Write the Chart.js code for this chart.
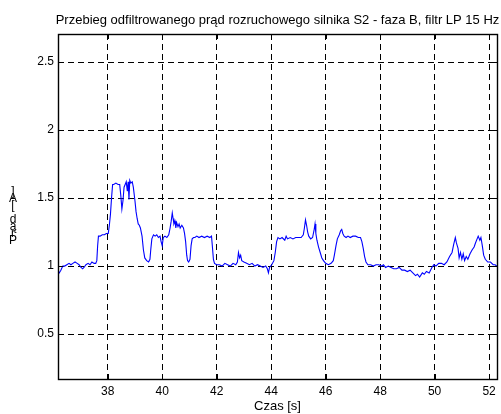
<!DOCTYPE html>
<html>
<head>
<meta charset="utf-8">
<script src="https://cdn.jsdelivr.net/npm/chart.js@4.4.1/dist/chart.umd.min.js"></script>
<style>
html,body{margin:0;padding:0;background:#fff;}
#wrap{width:501px;height:414px;position:relative;}
</style>
</head>
<body>
<div id="wrap"><canvas id="c" width="501" height="414"></canvas></div>
<script>
const titleText = 'Przebieg odfiltrowanego prąd rozruchowego silnika S2 - faza B, filtr LP 15 Hz';
const xLabel = 'Czas [s]';
const yLabel = 'Prąd [A]';
const xTicks = [38, 40, 42, 44, 46, 48, 50, 52];
const yTicks = [0.5, 1, 1.5, 2, 2.5];
const xRange = [36.175, 52.29];
const yRange = [0.17, 2.706];

const timeValues = [
36.18,36.22,36.28,36.35,36.42,36.5,36.58,36.65,36.72,36.8,36.88,36.95,37.02,37.08,37.13,37.2,37.28,37.35,37.42,37.5,37.56,37.6,37.63,37.66,37.72,37.8,37.88,37.95,38.02,38.06,38.1,38.14,38.18,38.22,38.3,38.38,38.44,38.48,38.52,38.56,38.6,38.64,38.68,38.72,38.75,38.78,38.81,38.85,38.9,38.94,39.0,39.04,39.08,39.12,39.16,39.2,39.26,39.31,39.36,39.43,39.5,39.55,39.58,39.62,39.68,39.74,39.8,39.86,39.92,39.96,40.0,40.04,40.1,40.17,40.24,40.29,40.33,40.37,40.4,40.43,40.47,40.5,40.53,40.58,40.62,40.66,40.72,40.78,40.82,40.86,40.9,40.93,40.97,41.02,41.06,41.1,41.15,41.2,41.27,41.35,41.45,41.55,41.65,41.75,41.81,41.84,41.88,41.92,42.0,42.1,42.2,42.3,42.4,42.5,42.6,42.7,42.76,42.8,42.84,42.88,42.92,43.0,43.1,43.2,43.3,43.4,43.5,43.6,43.7,43.8,43.86,43.9,43.94,44.02,44.1,44.15,44.2,44.25,44.32,44.4,44.5,44.55,44.6,44.7,44.8,44.9,45.0,45.1,45.18,45.22,45.26,45.3,45.34,45.38,45.45,45.52,45.58,45.61,45.64,45.68,45.74,45.8,45.86,45.92,46.0,46.1,46.2,46.28,46.32,46.38,46.43,46.5,46.55,46.59,46.63,46.68,46.75,46.82,46.9,47.0,47.1,47.2,47.28,47.33,47.38,47.43,47.48,47.55,47.65,47.75,47.85,47.95,48.05,48.12,48.2,48.3,48.4,48.5,48.6,48.7,48.8,48.9,49.0,49.1,49.2,49.3,49.37,49.45,49.55,49.62,49.7,49.8,49.9,49.97,50.05,50.15,50.25,50.35,50.45,50.55,50.64,50.7,50.76,50.8,50.86,50.9,50.95,51.0,51.05,51.1,51.16,51.22,51.3,51.38,51.45,51.5,51.56,51.6,51.66,51.7,51.75,51.8,51.86,51.95,52.05,52.15,52.22,52.28
];
const currentValues = [
0.94,0.95,0.97,1.00,1.00,1.01,1.02,1.01,1.02,1.03,1.02,1.01,0.99,0.98,0.99,1.01,1.02,1.01,1.03,1.02,1.02,1.04,1.15,1.22,1.22,1.23,1.23,1.24,1.24,1.30,1.38,1.50,1.60,1.60,1.61,1.60,1.60,1.52,1.42,1.48,1.58,1.60,1.62,1.55,1.62,1.49,1.63,1.61,1.62,1.58,1.48,1.40,1.35,1.31,1.30,1.28,1.22,1.12,1.06,1.04,1.03,1.05,1.12,1.20,1.23,1.22,1.23,1.21,1.22,1.18,1.15,1.21,1.22,1.21,1.23,1.28,1.33,1.39,1.35,1.31,1.33,1.28,1.32,1.29,1.31,1.28,1.30,1.28,1.24,1.18,1.08,1.04,1.03,1.05,1.15,1.20,1.21,1.21,1.22,1.21,1.22,1.21,1.22,1.21,1.22,1.15,1.05,1.02,1.01,1.01,1.00,1.02,1.01,1.00,1.02,1.01,1.03,1.10,1.06,1.08,1.04,1.03,1.02,1.01,1.02,1.00,1.01,1.00,0.99,1.00,0.98,0.95,0.99,1.01,1.04,1.10,1.18,1.21,1.20,1.21,1.19,1.22,1.20,1.21,1.20,1.21,1.21,1.21,1.23,1.28,1.34,1.30,1.25,1.22,1.20,1.21,1.27,1.31,1.24,1.19,1.14,1.10,1.06,1.04,1.02,1.01,1.02,1.04,1.08,1.15,1.20,1.23,1.26,1.27,1.24,1.22,1.21,1.22,1.21,1.22,1.22,1.21,1.21,1.18,1.13,1.07,1.03,1.01,1.01,1.00,1.01,1.01,1.00,1.01,0.99,1.00,0.99,0.98,0.98,0.99,0.97,0.97,0.96,0.97,0.95,0.93,0.94,0.92,0.95,0.94,0.96,0.95,0.99,1.01,1.00,1.02,1.02,1.01,1.03,1.07,1.10,1.16,1.21,1.17,1.13,1.06,1.10,1.05,1.09,1.04,1.07,1.05,1.09,1.12,1.14,1.17,1.20,1.22,1.19,1.21,1.15,1.08,1.05,1.03,1.03,1.01,1.01,1.00
];

const FONT = '"Liberation Sans", Arial, Helvetica, sans-serif';

const decor = {
  id: 'decor',
  afterDraw(chart) {
    const {ctx, chartArea: a, scales} = chart;
    ctx.save();
    ctx.strokeStyle = '#000';
    ctx.lineWidth = 1;
    ctx.setLineDash([]);
    const tl = 5;
    ctx.beginPath();
    xTicks.forEach(v => {
      const x = Math.round(scales.x.getPixelForValue(v)) + 0.5;
      ctx.moveTo(x, a.bottom); ctx.lineTo(x, a.bottom - tl);
      ctx.moveTo(x, a.top); ctx.lineTo(x, a.top + tl);
    });
    yTicks.forEach(v => {
      const y = Math.round(scales.y.getPixelForValue(v)) + 0.5;
      ctx.moveTo(a.left, y); ctx.lineTo(a.left + tl, y);
      ctx.moveTo(a.right, y); ctx.lineTo(a.right - tl, y);
    });
    ctx.stroke();
    ctx.lineWidth = 1.4;
    ctx.strokeRect(Math.round(a.left) + 0.5, Math.round(a.top) + 0.5,
                   Math.round(a.right - a.left), Math.round(a.bottom - a.top));
    ctx.fillStyle = '#000';
    ctx.font = '13px ' + FONT;
    ctx.textAlign = 'center';
    ctx.textBaseline = 'alphabetic';
    ctx.fillText(titleText, (a.left + a.right) / 2, 24);
    ctx.fillText(xLabel, (a.left + a.right) / 2, 410);
    ctx.font = '12px ' + FONT;
    const chars = Array.from(yLabel);
    chars.forEach((ch, i) => {
      ctx.fillText(ch, 13, 244 - i * 7);
    });
    ctx.restore();
  }
};

new Chart(document.getElementById('c'), {
  type: 'line',
  data: {
    datasets: [{
      data: timeValues.map((t, i) => ({x: t, y: currentValues[i]})),
      borderColor: '#0000ff',
      borderWidth: 1.1,
      pointRadius: 0,
      tension: 0,
      fill: false
    }]
  },
  options: {
    responsive: false,
    animation: false,
    layout: {padding: {top: 34, right: 4, bottom: 0, left: 0}},
    plugins: {legend: {display: false}, title: {display: false}, tooltip: {enabled: false}},
    scales: {
      x: {
        type: 'linear',
        min: xRange[0], max: xRange[1],
        afterBuildTicks(s) { s.ticks = xTicks.map(v => ({value: v})); },
        afterFit(s) { s.height = 35; },
        grid: {color: '#000', lineWidth: 1, drawTicks: false},
        border: {display: false, dash: [6, 4]},
        ticks: {color: '#000', font: {family: FONT, size: 12}, padding: 5, maxRotation: 0,
                callback: v => String(v)}
      },
      y: {
        type: 'linear',
        min: yRange[0], max: yRange[1],
        afterBuildTicks(s) { s.ticks = yTicks.map(v => ({value: v})); },
        afterFit(s) { s.width = 58; },
        grid: {color: '#000', lineWidth: 1, drawTicks: false},
        border: {display: false, dash: [6, 4]},
        ticks: {color: '#000', font: {family: FONT, size: 12}, padding: 4,
                callback: v => String(v)}
      }
    }
  },
  plugins: [decor]
});
</script>
</body>
</html>
